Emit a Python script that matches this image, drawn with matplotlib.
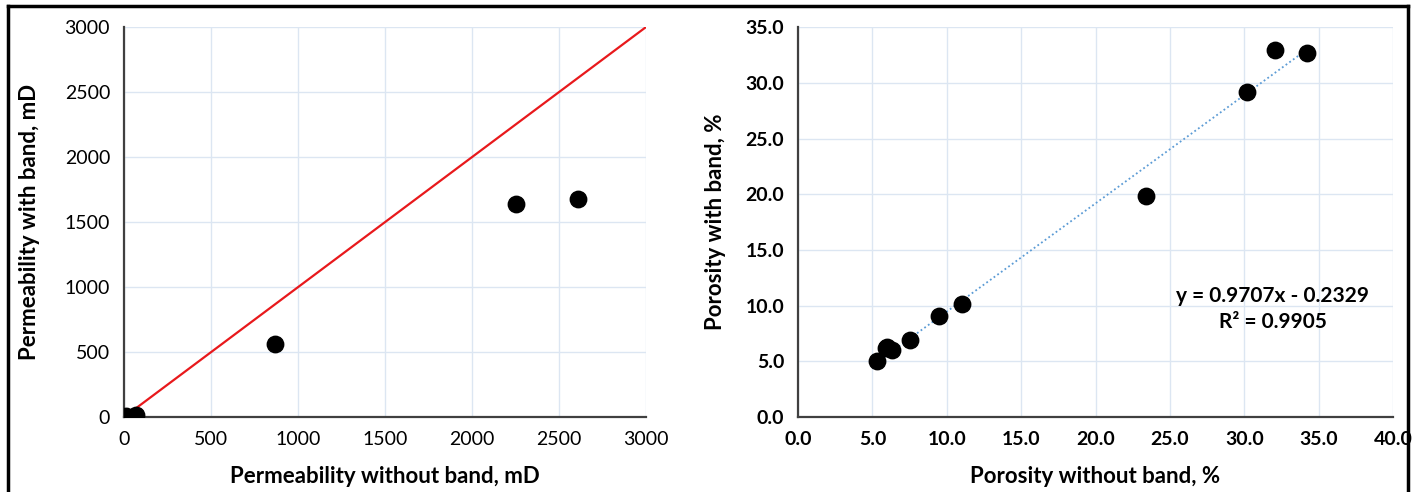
import numpy as np
import matplotlib.pyplot as plt
from matplotlib.lines import Line2D

plt.rcParams['font.family'] = ['Lato', 'DejaVu Sans']

# permeability data (mD)
perm_without = [3, 8, 12, 70, 870, 2255, 2610]
perm_with = [2, 5, 8, 20, 565, 1640, 1675]
perm_ticks = [0, 500, 1000, 1500, 2000, 2500, 3000]

# porosity data (%)
por_without = [5.3, 5.9, 6.0, 6.3, 7.5, 9.5, 11.0, 23.4, 30.2, 32.1, 34.2]
por_with = [5.0, 6.2, 6.3, 6.0, 6.9, 9.1, 10.2, 19.8, 29.2, 32.9, 32.7]
por_ticks = [0, 5, 10, 15, 20, 25, 30, 35, 40]
slope, icpt, r2 = 0.9707, -0.2329, 0.9905

fig = plt.figure(figsize=(14.12, 4.92), dpi=100)
ax1 = fig.add_axes([0.0878, 0.152, 0.3697, 0.793])
ax2 = fig.add_axes([0.5652, 0.152, 0.4213, 0.793])

grid_c = '#dce6f2'
spine_c = '#404040'

def style(ax):
    for s in ['top', 'right']:
        ax.spines[s].set_visible(False)
    for s in ['left', 'bottom']:
        ax.spines[s].set_color(spine_c)
        ax.spines[s].set_linewidth(1.6)
    ax.tick_params(length=0, pad=10)
    ax.grid(True, color=grid_c, lw=1.0)
    ax.set_axisbelow(True)

# left: permeability
style(ax1)
ax1.plot([0, 3000], [0, 3000], color='#e8191c', lw=1.6, zorder=2)
ax1.scatter(perm_without, perm_with, s=140, color='black', zorder=3)
ax1.set_xlim(0, 3000)
ax1.set_ylim(0, 3000)
ax1.set_xticks(perm_ticks)
ax1.set_yticks(perm_ticks)
ax1.tick_params(labelsize=14)
ax1.set_xlabel('Permeability without band, mD', fontsize=16, fontweight='bold', labelpad=13)
ax1.set_ylabel('Permeability with band, mD', fontsize=16, fontweight='bold', labelpad=18)

# right: porosity
style(ax2)
xs = np.array([min(por_without), max(por_without)])
ax2.plot(xs, slope * xs + icpt, color='#5b9bd5', lw=1.3, ls=(0, (1, 1.5)), zorder=2)
ax2.scatter(por_without, por_with, s=140, color='black', zorder=3)
ax2.set_xlim(0, 40)
ax2.set_ylim(0, 35)
ax2.set_xticks(por_ticks)
ax2.set_yticks(por_ticks[:-1])
ax2.set_xticklabels([f'{t:.1f}' for t in por_ticks], fontweight='bold')
ax2.set_yticklabels([f'{t:.1f}' for t in por_ticks[:-1]], fontweight='bold')
ax2.tick_params(labelsize=14)
ax2.text(31.9, 9.7, f'y = {slope}x - {abs(icpt)}\nR² = {r2}', ha='center', va='center',
         fontsize=15, fontweight='bold', linespacing=1.35)
ax2.set_xlabel('Porosity without band, %', fontsize=16, fontweight='bold', labelpad=13)
ax2.set_ylabel('Porosity with band, %', fontsize=16, fontweight='bold', labelpad=14)

# outer frame (no bottom edge)
x0, x1 = 8 / 1412, 1408 / 1412
ytop = 1 - 6 / 492
for xd, yd in [([x0, x1], [ytop, ytop]), ([x0, x0], [0, ytop]), ([x1, x1], [0, ytop])]:
    fig.add_artist(Line2D(xd, yd, color='black', lw=2.5, transform=fig.transFigure))

fig.savefig('out.png', dpi=100)
